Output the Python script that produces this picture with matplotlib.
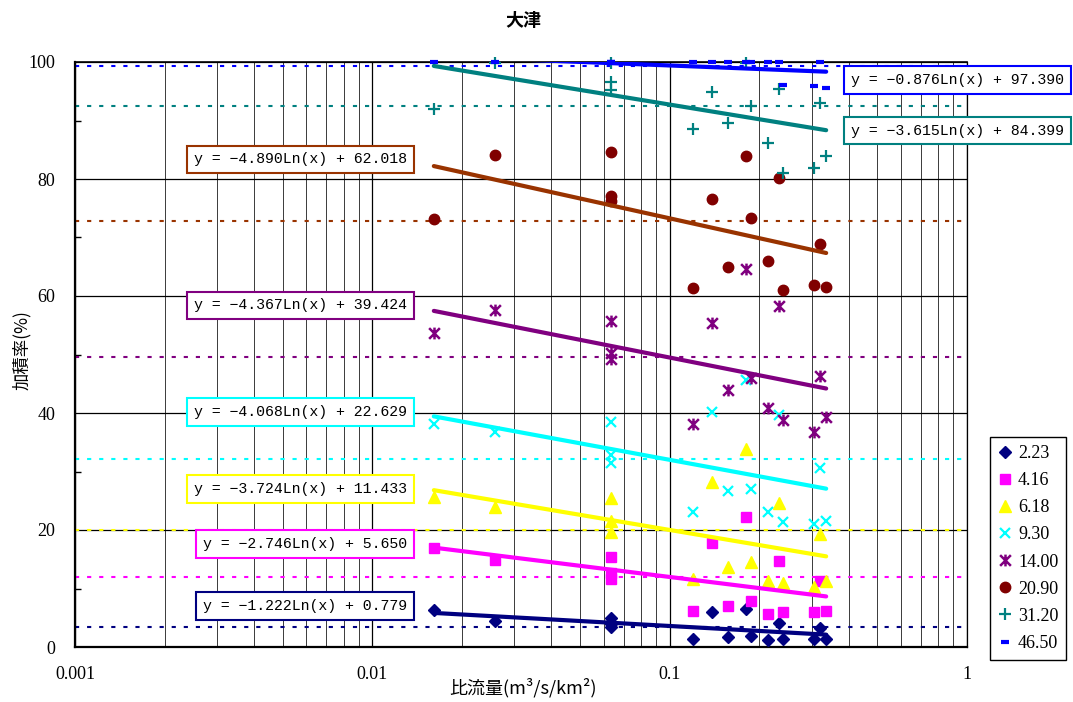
import numpy as np
import matplotlib
matplotlib.use("Agg")
import matplotlib.pyplot as plt
from matplotlib.path import Path
from matplotlib.ticker import FixedLocator, FixedFormatter, MultipleLocator, NullFormatter

# specific discharge of each station (m3/s/km2)
x_flow = [0.0161, 0.0259, 0.0637, 0.0637, 0.0637, 0.120, 0.139, 0.157,
          0.181, 0.188, 0.214, 0.233, 0.241, 0.306, 0.321, 0.336]

# cumulative ratio (%) per rainfall class
s223 = [6.4, 4.5, 5.0, 3.9, 3.4, 1.4, 5.9, 1.65, 6.5, 1.9, 1.2, 4.05, 1.3, 1.3, 3.3, 1.3]
s416 = [17.0, 14.8, 15.4, 12.6, 11.7, 6.1, 17.7, 6.95, 22.2, 7.8, 5.7, 14.7, 5.9, 5.9, 11.3, 6.2]
s618 = [25.7, 23.9, 25.5, 21.6, 19.6, 11.7, 28.2, 13.6, 33.9, 14.5, 11.3, 24.7, 11.0, 10.3, 19.4, 11.2]
s930 = [38.1, 36.7, 38.5, 32.9, 31.5, 23.0, 40.2, 26.7, 45.6, 27.0, 23.0, 39.7, 21.4, 21.0, 30.6, 21.6]
s1400 = [53.7, 57.6, 55.8, 50.3, 49.2, 38.2, 55.3, 43.9, 64.6, 45.9, 40.8, 58.3, 38.8, 36.7, 46.3, 39.3]
s2090 = [73.2, 84.1, 84.7, 77.1, 76.3, 61.4, 76.5, 65.0, 83.9, 73.3, 66.0, 80.1, 61.1, 61.9, 68.9, 61.6]
s3120 = [91.9, 99.9, 99.9, 96.5, 95.2, 88.5, 94.8, 89.5, 99.9, 92.5, 86.2, 95.3, 81.1, 81.9, 93.0, 83.9]
s4650 = [100, 100, 100, 100, 100, 100, 100, 100, 100, 100, 100, 100, 96.0, 95.9, 100, 95.5]

series_labels = ["2.23", "4.16", "6.18", "9.30", "14.00", "20.90", "31.20", "46.50"]
series_vals = [s223, s416, s618, s930, s1400, s2090, s3120, s4650]

# trendline coefficients y = a*ln(x) + b
fit_a = [-1.222, -2.746, -3.724, -4.068, -4.367, -4.890, -3.615, -0.876]
fit_b = [0.779, 5.650, 11.433, 22.629, 39.424, 62.018, 84.399, 97.390]

# reference levels (dotted lines)
ref_levels = [3.45, 12.0, 20.0, 32.2, 49.5, 72.9, 92.5, 99.4]

x_ticks = [0.001, 0.01, 0.1, 1]
x_tick_labels = ["0.001", "0.01", "0.1", "1"]
y_ticks = [0, 20, 40, 60, 80, 100]

marker_col = ["#000080", "#FF00FF", "#FFFF00", "#00FFFF", "#800080", "#800000", "#008080", "#0000FF"]
line_col = ["#000080", "#FF00FF", "#FFFF00", "#00FFFF", "#800080", "#993300", "#008080", "#0000FF"]

star = Path([(-1, -1), (1, 1), (-1, 1), (1, -1), (0, -1.1), (0, 1.1)],
            [Path.MOVETO, Path.LINETO, Path.MOVETO, Path.LINETO, Path.MOVETO, Path.LINETO])
markers = [("D", 6.5, 1), ("s", 7, 1), ("^", 8, 1), ("x", 7.5, 1.6), (star, 8.5, 1.8),
           ("o", 7.5, 1), ("+", 9, 1.6), ("_", 6, 3)]

# label boxes: (x px, y px, anchor)
label_pos = [(407, 606, "right"), (407, 544, "right"), (407, 489, "right"), (407, 412, "right"),
             (407, 305.5, "right"), (407, 159.5, "right"), (851, 130.5, "left"), (851, 80, "left")]

W, H = 1073, 702
SERIF = "Liberation Serif"
JP = "Noto Sans CJK JP"
MONO = "Liberation Mono"

fig = plt.figure(figsize=(W / 100, H / 100), dpi=100)
ax = fig.add_axes([75 / W, 1 - 647 / H, (967 - 75) / W, (647 - 62) / H])
ax.set_xscale("log")
ax.set_xlim(0.001, 1)
ax.set_ylim(0, 100)

ax.xaxis.set_major_locator(FixedLocator(x_ticks))
ax.xaxis.set_major_formatter(FixedFormatter(x_tick_labels))
ax.xaxis.set_minor_formatter(NullFormatter())
ax.yaxis.set_major_locator(FixedLocator(y_ticks))
ax.yaxis.set_minor_locator(MultipleLocator(10))
ax.grid(which="major", axis="both", color="black", lw=0.9)
ax.grid(which="minor", axis="x", color="#3a3a3a", lw=0.7)
ax.tick_params(axis="x", which="both", length=0, pad=14, labelsize=13)
ax.tick_params(axis="y", which="major", length=0, pad=14, labelsize=13)
ax.tick_params(axis="y", which="minor", direction="in", length=4, width=1)
for lab in ax.get_xticklabels() + ax.get_yticklabels():
    lab.set_fontfamily(SERIF)
for side in ["left", "bottom"]:
    ax.spines[side].set_linewidth(1.6)
ax.spines["top"].set_linewidth(1.2)
ax.spines["right"].set_linewidth(0.9)
ax.set_axisbelow(True)

for lev, c in zip(ref_levels, line_col):
    ax.axhline(lev, color=c, lw=1.5, dashes=(2, 3.8), zorder=1.5)

handles = []
for vals, lab, c, (m, ms, mew) in zip(series_vals, series_labels, marker_col, markers):
    h, = ax.plot(x_flow, vals, ls="none", marker=m, ms=ms, mew=mew, color=c,
                 mec=c, label=lab, clip_on=False, zorder=3)
    handles.append(h)

xs = np.logspace(np.log10(min(x_flow)), np.log10(max(x_flow)), 60)
for a, b, c in zip(fit_a, fit_b, line_col):
    ax.plot(xs, a * np.log(xs) + b, color=c, lw=3, solid_capstyle="round", zorder=4)

for a, b, c, (px_, py_, ha) in zip(fit_a, fit_b, line_col, label_pos):
    txt = f"y = {a:.3f}Ln(x) + {b:.3f}".replace("-", "\u2212")
    fig.text(px_ / W, 1 - py_ / H, txt, ha=ha, va="center", fontsize=10.7, family=MONO,
             bbox=dict(boxstyle="square,pad=0.45", fc="white", ec=c, lw=1.5), zorder=10)

leg = fig.legend(handles=handles, loc="upper left", bbox_to_anchor=(990 / W, 1 - 437 / H),
                 borderaxespad=0, frameon=True, fancybox=False, edgecolor="black",
                 framealpha=1, handlelength=0.8, handletextpad=0.3, labelspacing=0.56,
                 borderpad=0.45, prop={"family": SERIF, "size": 13})
leg.get_frame().set_linewidth(1)

fig.text(523 / W, 1 - 20 / H, "大津", ha="center", va="center", fontsize=13,
         fontweight="bold", family=JP)
fig.text(22 / W, 1 - 350 / H, "加積率(%)", ha="center", va="center", rotation=90,
         fontsize=12.5, family=JP)
fig.text(523 / W, 1 - 688 / H, "比流量(m³/s/km²)", ha="center", va="center",
         fontsize=13, family=JP)

fig.savefig("out.png", dpi=100)
